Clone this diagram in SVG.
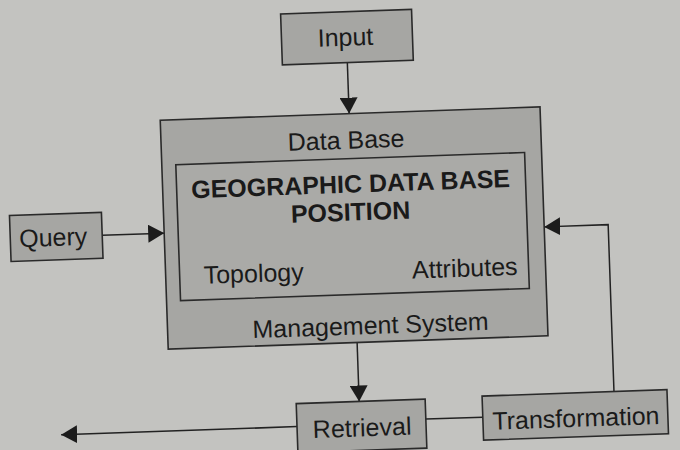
<svg xmlns="http://www.w3.org/2000/svg" width="680" height="450" viewBox="0 0 680 450">
<defs>
<marker id="ah" viewBox="0 0 16 18" refX="16" refY="9" markerWidth="16" markerHeight="18" markerUnits="userSpaceOnUse" orient="auto">
<path d="M0,0 L16,9 L0,18 Z" fill="#1c1c1c"/>
</marker>
<style>
.box{fill:#a6a6a3;stroke:#2a2a2a;stroke-width:1.6}
.inner{fill:#aaaaa7;stroke:#2a2a2a;stroke-width:1.6}
.t{font-family:"Liberation Sans",Arial,sans-serif;font-size:25px;fill:#1a1a1a}
.b{font-weight:bold}
.c{text-anchor:middle}
.ln{fill:none;stroke:#222;stroke-width:1.5}
</style>
</defs>
<rect width="680" height="450" fill="#c3c3c0"/>
<g transform="rotate(-2 340 225)">
<g id="connectors">
<line class="ln" x1="353" y1="63" x2="353" y2="114" marker-end="url(#ah)"/>
<line class="ln" x1="102" y1="227" x2="164" y2="227" marker-end="url(#ah)"/>
<polyline class="ln" points="608,401 608,234 544,234" marker-end="url(#ah)"/>
<line class="ln" x1="353" y1="343" x2="353" y2="402" marker-end="url(#ah)"/>
<line class="ln" x1="419" y1="422" x2="476" y2="422"/>
<line class="ln" x1="290" y1="425" x2="54" y2="425" marker-end="url(#ah)"/>
</g>
<g id="input">
<rect class="box" x="288" y="12" width="131" height="51"/>
<text class="t c" x="352" y="46">Input</text>
</g>
<g id="dbms">
<rect class="box" x="164" y="114" width="380" height="229"/>
<text class="t c" x="349" y="149">Data Base</text>
<text class="t c" x="367" y="335">Management System</text>
</g>
<g id="geodb">
<rect class="inner" x="178" y="159" width="349" height="136"/>
<text class="t b c" x="352" y="193">GEOGRAPHIC DATA BASE</text>
<text class="t b c" x="351" y="221">POSITION</text>
<text class="t" x="202" y="279">Topology</text>
<text class="t" x="516" y="281" text-anchor="end">Attributes</text>
</g>
<g id="query">
<rect class="box" x="10" y="204" width="92" height="46"/>
<text class="t c" x="53" y="236">Query</text>
</g>
<g id="retrieval">
<rect class="box" x="290" y="402" width="129" height="49"/>
<text class="t c" x="355" y="437">Retrieval</text>
</g>
<g id="transformation">
<rect class="box" x="476" y="401" width="185" height="44"/>
<text class="t c" x="569" y="435">Transformation</text>
</g>
</g>
</svg>
